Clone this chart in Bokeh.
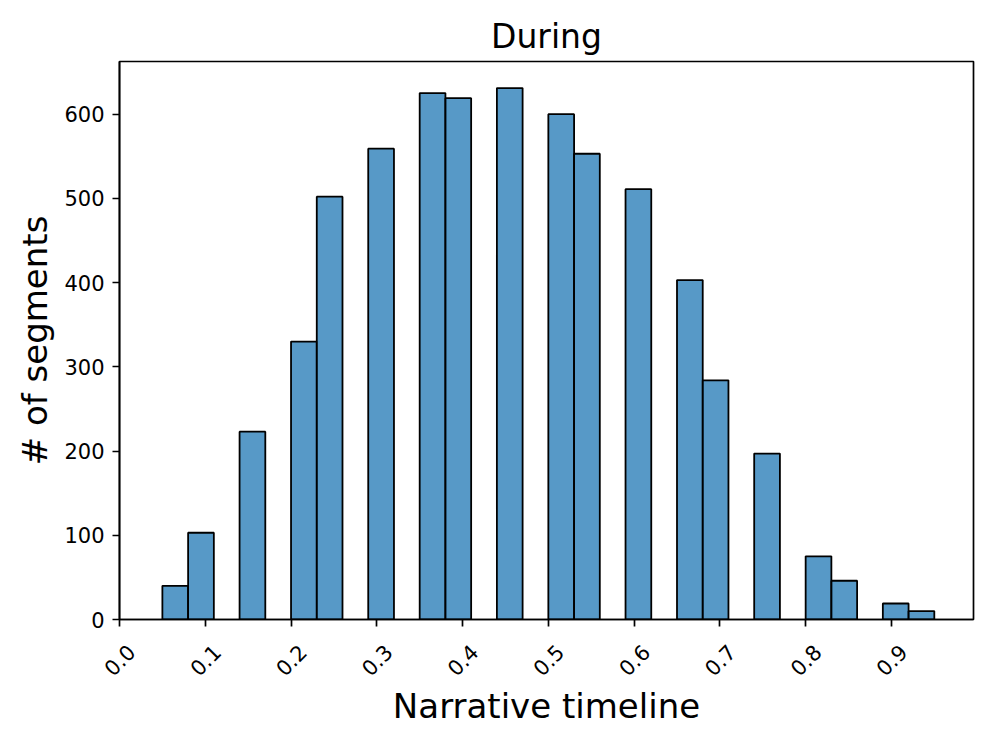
import math
from bokeh.plotting import figure
from bokeh.layouts import column
from bokeh.models import Range1d, FixedTicker, ColumnDataSource
from bokeh.core.properties import value
from bokeh.embed import file_html
from bokeh.resources import INLINE

# Histogram data (bin width 0.03, starting at 0.05)
bin_left = [0.05, 0.08, 0.11, 0.14, 0.17, 0.20, 0.23, 0.26, 0.29, 0.32,
            0.35, 0.38, 0.41, 0.44, 0.47, 0.50, 0.53, 0.56, 0.59, 0.62,
            0.65, 0.68, 0.71, 0.74, 0.77, 0.80, 0.83, 0.86, 0.89, 0.92]
bin_width = 0.03
counts = [40, 103, 0, 223, 0, 330, 502, 0, 559, 0,
          625, 619, 0, 631, 0, 600, 553, 0, 511, 0,
          403, 284, 0, 197, 0, 75, 46, 0, 19, 10]
x_ticks = [0.0, 0.1, 0.2, 0.3, 0.4, 0.5, 0.6, 0.7, 0.8, 0.9]
x_tick_labels = ["0.0", "0.1", "0.2", "0.3", "0.4", "0.5", "0.6", "0.7", "0.8", "0.9"]
y_ticks = [0, 100, 200, 300, 400, 500, 600]

src = ColumnDataSource(dict(
    left=[b for b, c in zip(bin_left, counts) if c > 0],
    right=[b + bin_width for b, c in zip(bin_left, counts) if c > 0],
    top=[c for c in counts if c > 0],
    bottom=[0 for c in counts if c > 0],
))

FONT = "DejaVu Sans"
X_END = 0.9957
FRAME_W = 854
BOTTOM_GAP = 14
xr = Range1d(0, X_END)

p = figure(
    output_backend="svg", toolbar_location=None,
    frame_width=FRAME_W, frame_height=558,
    min_border_left=119, min_border_right=23,
    min_border_top=61, min_border_bottom=BOTTOM_GAP,
    x_range=xr, y_range=Range1d(0, 662.55),
    title="During",
)
p.frame_align = False
p.quad(left="left", right="right", top="top", bottom="bottom", source=src,
       fill_color="#1f77b4", fill_alpha=0.75, line_color="black", line_width=1.8)

p.grid.visible = False
p.background_fill_color = "white"
p.border_fill_color = "white"
p.outline_line_color = "black"
p.outline_line_width = 1.7

p.title.text_font = FONT
p.title.text_font_size = "33px"
p.title.text_font_style = "normal"
p.title.text_color = "black"
p.title.align = "center"
p.title.standoff = 12

for ax in (p.xaxis[0], p.yaxis[0]):
    ax.axis_line_width = 1.7
    ax.major_tick_line_width = 1.7
    ax.major_tick_line_color = "black"
    ax.major_tick_out = 7
    ax.major_tick_in = 0
    ax.minor_tick_line_color = None
    ax.major_label_text_font = FONT
    ax.major_label_text_font_size = "21px"
    ax.major_label_text_color = "black"
    ax.axis_label_text_font = FONT
    ax.axis_label_text_font_size = "34px"
    ax.axis_label_text_font_style = "normal"
    ax.axis_label_text_color = "black"

# main x axis: tick marks only (labels drawn centred in the strip below)
p.xaxis.ticker = FixedTicker(ticks=x_ticks)
p.xaxis.major_label_text_color = None
p.xaxis.major_label_text_font_size = "1px"
p.xaxis.major_label_standoff = 0

p.yaxis.ticker = FixedTicker(ticks=y_ticks)
p.yaxis.major_label_standoff = 8
p.yaxis.axis_label = "# of segments"
p.yaxis.axis_label_standoff = 6

# strip below the plot: same x scale, 23px wider on both sides so "0.0" fits
PAD_PX = 23
STRIP_H = 45
px_unit = X_END / FRAME_W
label_y = -26.5
strip = figure(
    output_backend="svg", toolbar_location=None,
    frame_width=FRAME_W + 2 * PAD_PX, frame_height=STRIP_H,
    min_border_left=119 - PAD_PX, min_border_right=0,
    min_border_top=0, min_border_bottom=60,
    x_range=Range1d(-PAD_PX * px_unit, X_END + PAD_PX * px_unit),
    y_range=Range1d(-STRIP_H, 0),
)
strip.frame_align = False
strip.outline_line_color = None
strip.grid.visible = False
strip.yaxis.visible = False
strip.border_fill_color = None
strip.background_fill_color = None
lab_src = ColumnDataSource(dict(x=x_ticks, y=[label_y] * len(x_ticks), text=x_tick_labels))
strip.text(x="x", y="y", text="text", source=lab_src,
           angle=math.pi / 4, text_align="center", text_baseline="middle",
           text_font=value(FONT), text_font_size="21px", text_color="black")
sx = strip.xaxis[0]
sx.ticker = FixedTicker(ticks=[])
sx.axis_line_color = None
sx.major_tick_line_color = None
sx.minor_tick_line_color = None
sx.axis_label = "Narrative timeline"
sx.axis_label_text_font = FONT
sx.axis_label_text_font_size = "34px"
sx.axis_label_text_font_style = "normal"
sx.axis_label_text_color = "black"
sx.axis_label_standoff = 7

layout = column(p, strip, spacing=0)
open("out.html", "w").write(file_html(layout, INLINE))
